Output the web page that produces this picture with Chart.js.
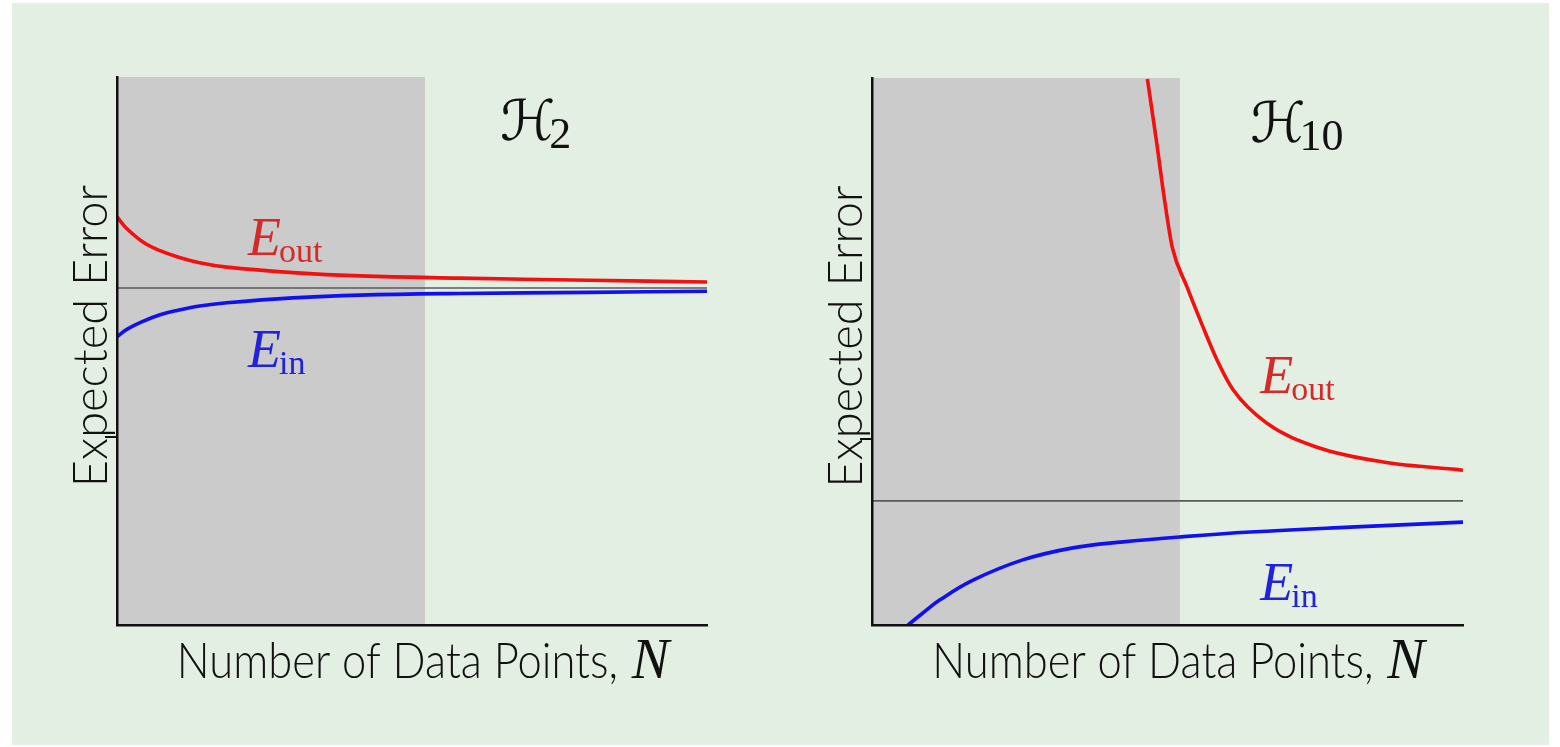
<!DOCTYPE html>
<html>
<head>
<meta charset="utf-8">
<script src="https://cdn.jsdelivr.net/npm/chart.js@4.4.1/dist/chart.umd.min.js"></script>
<style>
  html, body { margin: 0; padding: 0; background: #ffffff; }
  #page { position: relative; width: 1560px; height: 747px; overflow: hidden; }
  #panel { position: absolute; left: 12px; top: 3px; width: 1537px; height: 742px; background: #e4efe3; }
  .box { position: absolute; top: 0; width: 780px; height: 747px; }
  #boxLeft { left: 0; }
  #boxRight { left: 780px; }
</style>
</head>
<body>
<div id="page">
  <div id="panel"></div>
  <div class="box" id="boxLeft"><canvas id="chartLeft" width="780" height="747"></canvas></div>
  <div class="box" id="boxRight"><canvas id="chartRight" width="780" height="747"></canvas></div>
</div>
<script>
// --- data (N and error in 0..100 plot units) ---
// left panel, H2
const h2N = [0, 1.6, 4.4, 7.3, 10.2, 14, 18.6, 29.8, 41.2, 58.1, 80, 100];
const h2Eout = [74.5, 72.4, 69.9, 68.3, 67.2, 66.1, 65.3, 64.3, 63.7, 63.3, 62.9, 62.6];
const h2Ein = [52.6, 53.9, 55.4, 56.6, 57.4, 58.2, 58.8, 59.7, 60.2, 60.5, 60.7, 60.9];
const h2Shade = [0, 52.2];
const h2Ref = 61.5;
const h2Tick = 34.3;

// right panel, H10
const h10NOut = [46.6, 48.1, 49.5, 50.8, 53.3, 56.0, 58.4, 61.1, 66.8, 75.3, 86.5, 100];
const h10Eout = [99.8, 88.7, 77.7, 69.1, 61.8, 54.5, 48.4, 43.0, 36.9, 32.5, 29.8, 28.3];
const h10NIn = [6.1, 8.5, 11.5, 17.1, 25.5, 34.0, 42.5, 52.1, 64.0, 80.9, 100];
const h10Ein = [0, 2.1, 4.6, 8.2, 11.9, 14.1, 15.2, 16.1, 17.0, 17.9, 18.8];
const h10Shade = [0, 52.1];
const h10Ref = 22.7;
const h10Tick = 34.0;

const yTitle = "Expected Error";
const xTitle = "Number of Data Points, ";
const xTitleVar = "N";

// --- helpers ---
const toPoints = (xs, ys) => xs.map((x, i) => ({ x: x, y: ys[i] }));

const serifItalic = "italic 54px 'Liberation Serif', 'DejaVu Serif', serif";
const serifSub = "34px 'Liberation Serif', 'DejaVu Serif', serif";
const varFont = "italic 56px 'Liberation Serif', serif";

// draws the math-style labels and the axis titles
const mathText = {
  id: "mathText",
  afterDraw(chart, args, opts) {
    const { ctx, chartArea, scales } = chart;
    ctx.save();
    ctx.textBaseline = "alphabetic";
    ctx.textAlign = "left";

    (opts.labels || []).forEach((l) => {
      let px = scales.x.getPixelForValue(l.n);
      const py = scales.y.getPixelForValue(l.e);
      ctx.fillStyle = l.color;
      ctx.font = l.mainFont;
      ctx.fillText(l.main, px, py);
      px += ctx.measureText(l.main).width + (l.gap || 0);
      ctx.font = l.subFont;
      ctx.fillText(l.sub, px, py + l.drop);
    });

    // x title: narrowed sans text + italic N
    ctx.fillStyle = "#111";
    ctx.font = opts.xFont;
    const w1 = ctx.measureText(xTitle).width * opts.xSqueeze;
    ctx.font = varFont;
    const w2 = ctx.measureText(xTitleVar).width;
    const cx = (chartArea.left + chartArea.right) / 2 + 10;
    const by = chartArea.bottom + 53;
    const sx = cx - (w1 + w2) / 2;
    ctx.save();
    ctx.translate(sx, by);
    ctx.scale(opts.xSqueeze, 1);
    ctx.font = opts.xFont;
    ctx.fillText(xTitle, 0, 0);
    ctx.restore();
    ctx.font = varFont;
    ctx.fillText(xTitleVar, sx + w1 + 2, by);

    // y title, rotated
    ctx.font = opts.yFont;
    ctx.translate(chartArea.left - 10, (chartArea.top + chartArea.bottom) / 2 - 15);
    ctx.rotate(-Math.PI / 2);
    ctx.textAlign = "center";
    ctx.fillText(yTitle, 0, 0);
    ctx.restore();
  },
};

function makeChart(canvasId, pad, lines, shade, ref, tick, labels) {
  const datasets = [
    {
      data: [{ x: shade[0], y: 100 }, { x: shade[1], y: 100 }],
      borderWidth: 0,
      pointRadius: 0,
      fill: "start",
      backgroundColor: "#cbcbcb",
      order: 10,
    },
    {
      data: [{ x: 0, y: ref }, { x: 100, y: ref }],
      borderColor: "#5a5a5a",
      borderWidth: 1.6,
      pointRadius: 0,
      fill: false,
      order: 5,
    },
  ];
  lines.forEach((l) => {
    datasets.push({
      data: l.points,
      borderColor: l.color,
      borderWidth: 3.6,
      pointRadius: 0,
      fill: false,
      tension: l.tension,
      cubicInterpolationMode: l.mode,
      order: 1,
    });
  });

  return new Chart(document.getElementById(canvasId), {
    type: "line",
    data: { datasets: datasets },
    plugins: [mathText],
    options: {
      responsive: false,
      animation: false,
      events: [],
      layout: { padding: pad },
      plugins: {
        legend: { display: false },
        tooltip: { enabled: false },
        mathText: {
          labels: labels,
          xFont: "300 50px Lato, 'DejaVu Sans', sans-serif",
          xSqueeze: 0.87,
          yFont: "300 47px Lato, 'DejaVu Sans', sans-serif",
        },
      },
      scales: {
        x: {
          type: "linear",
          min: 0,
          max: 100,
          ticks: { display: false },
          grid: { display: false },
          border: { display: true, color: "#111111", width: 2.5, z: 1 },
          afterFit: (s) => { s.height = 0; },
        },
        y: {
          type: "linear",
          min: 0,
          max: 100,
          ticks: { display: false },
          afterBuildTicks: (s) => { s.ticks = [{ value: tick }]; },
          grid: {
            display: true,
            drawOnChartArea: false,
            drawTicks: true,
            tickLength: 12,
            color: "#111111",
            lineWidth: 2,
            z: 1,
          },
          border: { display: true, color: "#111111", width: 2.5, z: 1 },
          afterFit: (s) => { s.width = 0; },
        },
      },
    },
  });
}

makeChart(
  "chartLeft",
  { left: 117, top: 77, right: 73, bottom: 122 },
  [
    { points: toPoints(h2N, h2Eout), color: "#f21010", tension: 0.4, mode: "default" },
    { points: toPoints(h2N, h2Ein), color: "#1010f2", tension: 0.4, mode: "default" },
  ],
  h2Shade, h2Ref, h2Tick,
  [
    { n: 22.2, e: 67.5, main: "E", sub: "out", color: "#d42a2a", mainFont: serifItalic, subFont: serifSub, drop: 7, gap: -2 },
    { n: 22.2, e: 47.1, main: "E", sub: "in", color: "#2222dd", mainFont: serifItalic, subFont: serifSub, drop: 7, gap: -2 },
    { n: 64.9, e: 88.5, main: "\u210B", sub: "2", color: "#111111", mainFont: "56px 'DejaVu Sans', serif", subFont: "44px 'Liberation Serif', serif", drop: 8, gap: -6 },
  ]
);

makeChart(
  "chartRight",
  { left: 92, top: 78, right: 97, bottom: 122 },
  [
    { points: toPoints(h10NOut, h10Eout), color: "#f21010", tension: 0.4, mode: "monotone" },
    { points: toPoints(h10NIn, h10Ein), color: "#1010f2", tension: 0.4, mode: "default" },
  ],
  h10Shade, h10Ref, h10Tick,
  [
    { n: 65.7, e: 42.4, main: "E", sub: "out", color: "#d42a2a", mainFont: serifItalic, subFont: serifSub, drop: 7, gap: -2 },
    { n: 65.7, e: 4.6, main: "E", sub: "in", color: "#2222dd", mainFont: serifItalic, subFont: serifSub, drop: 7, gap: -2 },
    { n: 64.0, e: 88.3, main: "\u210B", sub: "10", color: "#111111", mainFont: "56px 'DejaVu Sans', serif", subFont: "44px 'Liberation Serif', serif", drop: 8, gap: -6 },
  ]
);
</script>
</body>
</html>
